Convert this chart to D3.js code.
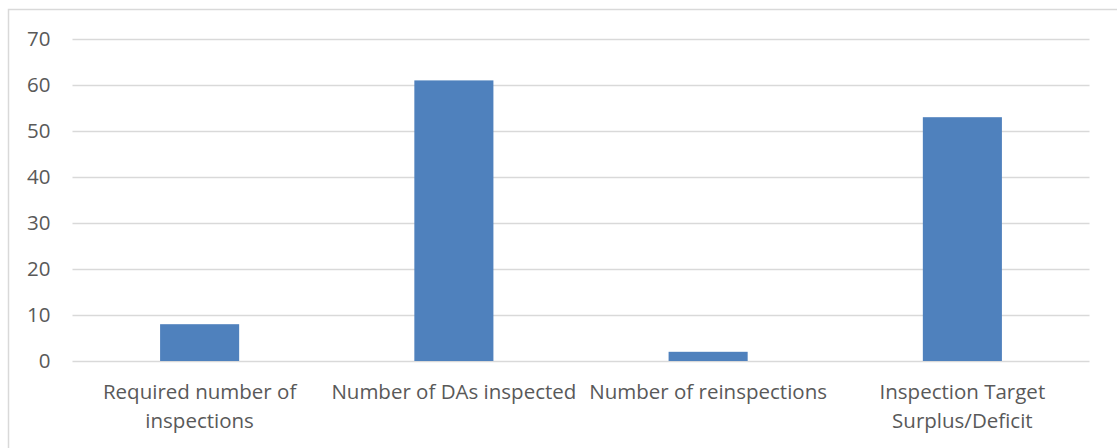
<!DOCTYPE html>
<html>
<head>
<meta charset="utf-8">
<script src="https://cdn.jsdelivr.net/npm/d3@7"></script>
<style>
  html, body { margin: 0; padding: 0; background: #fff; }
  svg { display: block; }
  text { font-family: "Open Sans", "Noto Sans", sans-serif; fill: #595959; }
</style>
</head>
<body>
<svg id="chart" width="1117" height="448"></svg>
<script>
// Inspection summary
const categories = [
  ["Required number of", "inspections"],
  ["Number of DAs inspected"],
  ["Number of reinspections"],
  ["Inspection Target", "Surplus/Deficit"]
];
const values = [8, 61, 2, 53];
const yTicks = [0, 10, 20, 30, 40, 50, 60, 70];

const svg = d3.select("#chart");
const W = 1117, H = 448;
const plot = { left: 72.5, right: 1089.5, top: 39, bottom: 361 };
const fontSize = 20.5;

// outer chart frame
svg.append("rect")
  .attr("x", 8.5).attr("y", 9.5)
  .attr("width", W + 20).attr("height", H + 20)
  .attr("fill", "#fff").attr("stroke", "#d9d9d9").attr("stroke-width", 1.5);

const x = d3.scaleBand()
  .domain(d3.range(categories.length))
  .range([plot.left, plot.right])
  .paddingInner(0.689).paddingOuter(0.3445);

const y = d3.scaleLinear().domain([0, 70]).range([plot.bottom, plot.top]);

// horizontal gridlines
svg.append("g")
  .selectAll("line")
  .data(yTicks)
  .join("line")
  .attr("x1", plot.left).attr("x2", plot.right)
  .attr("y1", d => Math.round(y(d)) + 0.5).attr("y2", d => Math.round(y(d)) + 0.5)
  .attr("stroke", "#d9d9d9").attr("stroke-width", 1.5);

// y axis labels
const yAxis = d3.axisLeft(y).tickValues(yTicks).tickSize(0).tickPadding(0);
const yg = svg.append("g").attr("transform", `translate(${plot.left - 22},0)`).call(yAxis);
yg.select(".domain").remove();
yg.selectAll("text")
  .attr("font-size", fontSize)
  .attr("fill", "#595959")
  .style("font-family", "'Open Sans', sans-serif");

// bars
svg.append("g")
  .selectAll("rect")
  .data(values)
  .join("rect")
  .attr("x", (d, i) => x(i))
  .attr("width", x.bandwidth())
  .attr("y", d => y(d))
  .attr("height", d => y(0) - y(d))
  .attr("fill", "#4f81bd");

// category labels
const lbl = svg.append("g");
categories.forEach((lines, i) => {
  const cx = x(i) + x.bandwidth() / 2;
  const t = lbl.append("text")
    .attr("text-anchor", "middle")
    .attr("font-size", fontSize);
  lines.forEach((ln, j) => {
    t.append("tspan")
      .attr("x", cx)
      .attr("y", 399 + j * 28.5)
      .text(ln);
  });
});
</script>
</body>
</html>
